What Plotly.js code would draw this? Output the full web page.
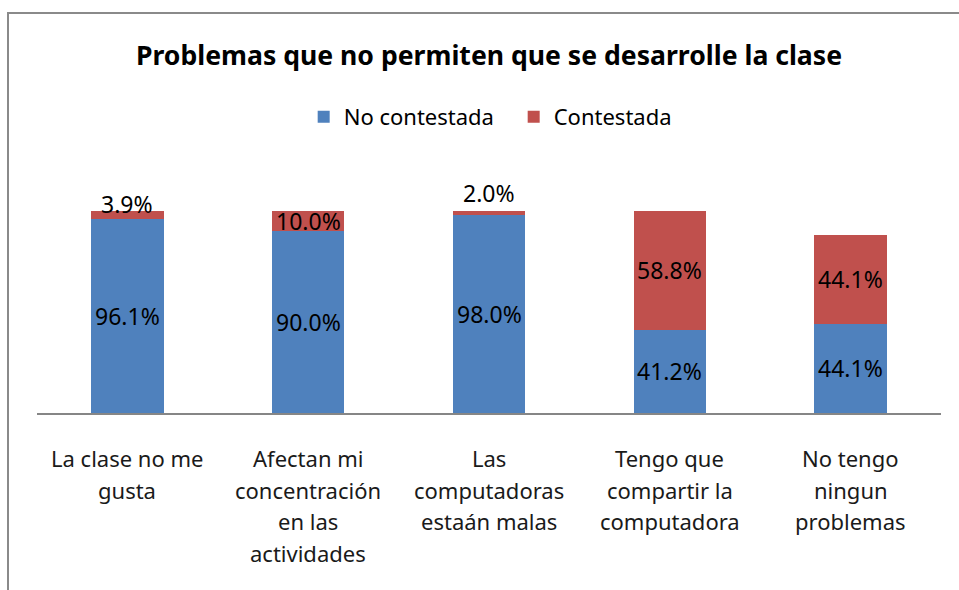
<!DOCTYPE html>
<html>
<head>
<meta charset="utf-8">
<script src="https://cdn.plot.ly/plotly-3.0.1.min.js"></script>
<style>
html,body{margin:0;padding:0;background:#fff;overflow:hidden;}
#frame{position:absolute;left:7px;top:12px;width:1000px;height:1000px;border:2px solid #8a8a8a;box-sizing:border-box;pointer-events:none;z-index:5;}
#chart{position:absolute;left:0;top:0;width:959px;height:590px;}
</style>
</head>
<body>
<div id="chart"></div>
<div id="frame"></div>
<script>
const categories = [
  "La clase no me<br>gusta",
  "Afectan mi<br>concentración<br>en las<br>actividades",
  "Las<br>computadoras<br>estaán malas",
  "Tengo que<br>compartir la<br>computadora",
  "No tengo<br>ningun<br>problemas"
];
const noContestada = [96.1, 90.0, 98.0, 41.2, 44.1];
const contestada = [3.9, 10.0, 2.0, 58.8, 44.1];
const seriesNames = ["No contestada", "Contestada"];
const chartTitle = "Problemas que no permiten que se desarrolle la clase";

const FONT = "Noto Sans, sans-serif";
const blue = "#4F81BD", red = "#C0504D";

const traces = [
  {type:"bar", name:seriesNames[0], x:categories, y:noContestada, marker:{color:blue}, hoverinfo:"none"},
  {type:"bar", name:seriesNames[1], x:categories, y:contestada, marker:{color:red}, hoverinfo:"none"}
];

const annotations = [];
categories.forEach((c,i)=>{
  annotations.push({x:c, y:noContestada[i]/2, xref:"x", yref:"y", text:noContestada[i].toFixed(1)+"%", showarrow:false, font:{family:FONT,size:23,color:"#000"}});
  const v = contestada[i];
  annotations.push({x:c, y:noContestada[i]+v/2, xref:"x", yref:"y", text:v.toFixed(1)+"%", showarrow:false, yshift: v<5 ? (6-v)*5 : 0, font:{family:FONT,size:23,color:"#000"}});
  c.split("<br>").forEach((line,k)=>{
    annotations.push({x:c, y:0, xref:"x", yref:"y", text:line, showarrow:false, yanchor:"middle", yshift:-(45+k*31.7), font:{family:FONT,size:22,color:"#1a1a1a"}});
  });
});

const layout = {
  width:959, height:590,
  margin:{l:37, r:18, t:211, b:177, pad:0},
  paper_bgcolor:"#fff", plot_bgcolor:"#fff",
  barmode:"stack", bargap:0.6,
  title:{text:"<b>"+chartTitle+"</b>", x:0.5, xanchor:"center", y:0.905, yanchor:"middle", xref:"paper", font:{family:FONT, size:26.6, color:"#000"}},
  showlegend:true,
  legend:{orientation:"h", x:0.295, xanchor:"left", y:1 - 117/590, yref:"container", yanchor:"middle", font:{family:FONT,size:22,color:"#000"}, traceorder:"normal", entrywidth:165, entrywidthmode:"pixels"},
  xaxis:{showline:true, linecolor:"#868686", linewidth:2, ticks:"", showticklabels:false, showgrid:false, zeroline:false, fixedrange:true},
  yaxis:{range:[0,100], visible:false, showgrid:false, zeroline:false, fixedrange:true},
  annotations:annotations
};

Plotly.newPlot("chart", traces, layout, {displayModeBar:false, staticPlot:true});
</script>
</body>
</html>
